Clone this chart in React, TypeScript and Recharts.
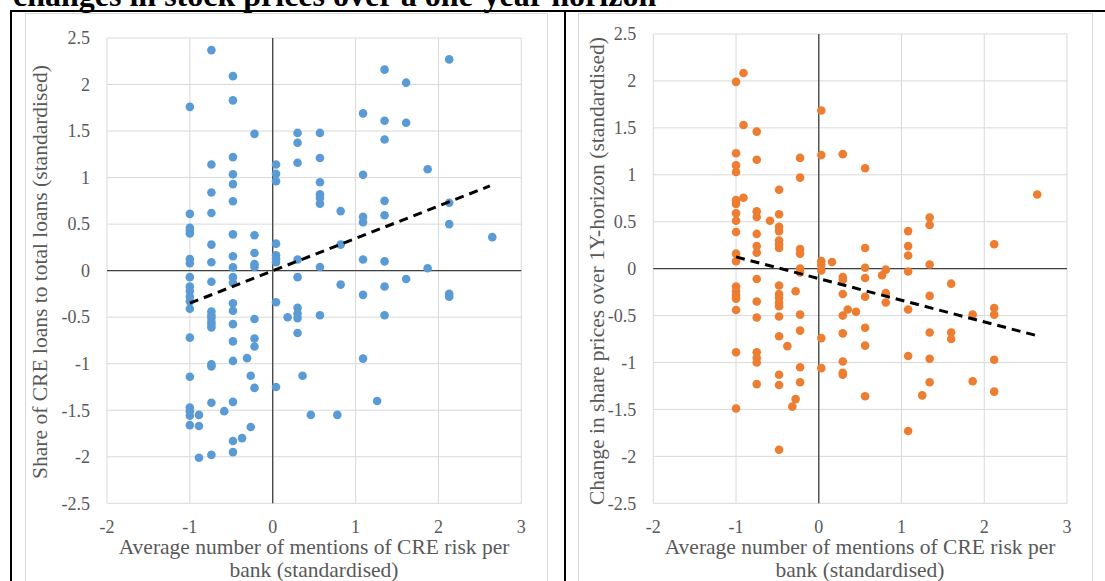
import { ScatterChart, Scatter, XAxis, YAxis, CartesianGrid, ReferenceLine } from "recharts";

// left panel: CRE mentions vs share of CRE loans
const blueX = [
  -1, -1, -1, -1, -1, -1, -1, -1, -1, -1, -1, -1, -1, -1, -1, -1, -1, -1, -1,
  -0.89, -0.89, -0.89,
  -0.74, -0.74, -0.74, -0.74, -0.74, -0.74, -0.74, -0.74, -0.74, -0.74, -0.74, -0.74, -0.74, -0.74, -0.74, -0.74, -0.74,
  -0.585,
  -0.48, -0.48, -0.48, -0.48, -0.48, -0.48, -0.48, -0.48, -0.48, -0.48, -0.48, -0.48, -0.48, -0.48, -0.48, -0.48, -0.48, -0.48, -0.48,
  -0.37, -0.31, -0.265, -0.265,
  -0.22, -0.22, -0.22, -0.22, -0.22, -0.22, -0.22, -0.22, -0.22,
  0.04, 0.04, 0.04, 0.04, 0.04, 0.04, 0.04, 0.04, 0.04,
  0.18,
  0.3, 0.3, 0.3, 0.3, 0.3, 0.3, 0.3, 0.3, 0.3,
  0.36, 0.46,
  0.57, 0.57, 0.57, 0.57, 0.57, 0.57, 0.57, 0.57,
  0.78, 0.82, 0.82, 0.82,
  1.09, 1.09, 1.09, 1.09, 1.09, 1.09, 1.09,
  1.26,
  1.35, 1.35, 1.35, 1.35, 1.35, 1.35, 1.35, 1.35,
  1.61, 1.61, 1.61,
  1.87, 1.87,
  2.13, 2.13, 2.13, 2.13, 2.13,
  2.65,
];
const blueY = [
  1.76, 0.61, 0.46, 0.43, 0.4, 0.125, 0.08, -0.07, -0.17, -0.22, -0.28, -0.33, -0.41, -0.72, -1.14, -1.47, -1.51, -1.56, -1.66,
  -1.55, -1.67, -2.01,
  2.37, 1.14, 0.84, 0.62, 0.28, 0.09, -0.12, -0.44, -0.48, -0.51, -0.55, -0.58, -0.61, -1.005, -1.03, -1.42, -1.98,
  -1.51,
  2.09, 1.83, 1.22, 1.035, 0.93, 0.745, 0.39, 0.155, 0.035, -0.07, -0.13, -0.35, -0.43, -0.575, -0.76, -0.97, -1.41, -1.83, -1.95,
  -1.8, -0.94, -1.13, -1.68,
  1.47, 0.38, 0.19, 0.07, 0.04, -0.52, -0.73, -0.815, -1.26,
  1.14, 1.04, 0.96, 0.29, 0.165, 0.13, 0.09, -0.34, -1.25,
  -0.5,
  1.48, 1.375, 1.16, 0.12, -0.07, -0.4, -0.46, -0.51, -0.67,
  -1.13, -1.55,
  1.48, 1.21, 0.95, 0.82, 0.78, 0.72, 0.04, -0.48,
  -1.55, 0.64, 0.28, -0.15,
  1.69, 1.03, 0.58, 0.52, 0.12, -0.26, -0.945,
  -1.4,
  2.16, 1.61, 1.41, 0.75, 0.595, 0.1, -0.17, -0.48,
  2.02, 1.59, -0.09,
  1.09, 0.025,
  2.27, 0.73, 0.5, -0.25, -0.28,
  0.36,
];

// right panel: CRE mentions vs 1Y share price change
const orangeX = [
  -1, -1, -1, -1, -1, -1, -1, -1, -1, -1, -1, -1, -1, -1, -1, -1, -1, -1,
  -0.91, -0.91, -0.91,
  -0.75, -0.75, -0.75, -0.75, -0.75, -0.75, -0.75, -0.75, -0.75, -0.75, -0.75, -0.75, -0.75, -0.75,
  -0.59,
  -0.48, -0.48, -0.48, -0.48, -0.48, -0.48, -0.48, -0.48, -0.48, -0.48, -0.48, -0.48, -0.48, -0.48, -0.48, -0.48, -0.48,
  -0.38, -0.28, -0.28, -0.32,
  -0.226, -0.226, -0.226, -0.226, -0.226, -0.226, -0.226, -0.226, -0.226, -0.226,
  0.03, 0.03, 0.03, 0.03, 0.03, 0.03, 0.03,
  0.16,
  0.29, 0.29, 0.29, 0.29, 0.29, 0.29, 0.29, 0.29, 0.29,
  0.35, 0.45,
  0.56, 0.56, 0.56, 0.56, 0.56, 0.56, 0.56, 0.56,
  0.765, 0.81, 0.81, 0.81,
  1.08, 1.08, 1.08, 1.08, 1.08, 1.08, 1.08,
  1.25,
  1.34, 1.34, 1.34, 1.34, 1.34, 1.34, 1.34,
  1.6, 1.6, 1.6,
  1.86, 1.86,
  2.12, 2.12, 2.12, 2.12, 2.12,
  2.64,
];
const orangeY = [
  1.99, 1.23, 1.1, 1.03, 0.73, 0.69, 0.59, 0.51, 0.39, 0.16, 0.08, -0.19, -0.24, -0.28, -0.32, -0.44, -0.89, -1.49,
  2.085, 1.53, 0.755,
  1.46, 1.16, 0.61, 0.55, 0.37, 0.24, 0.17, -0.11, -0.35, -0.52, -0.89, -0.95, -1.0, -1.23,
  0.51,
  0.84, 0.58, 0.445, 0.4, 0.3, 0.26, 0.22, -0.18, -0.27, -0.31, -0.36, -0.4, -0.51, -0.72, -1.13, -1.24, -1.93,
  -0.825, -0.24, -1.39, -1.47,
  1.18, 0.97, 0.21, 0.16, 0.0, -0.04, -0.49, -0.66, -1.05, -1.21,
  1.685, 1.21, 0.08, 0.04, -0.02, -0.74, -1.06,
  0.07,
  1.22, -0.09, -0.12, -0.27, -0.5, -0.69, -0.99, -1.11, -1.13,
  -0.435, -0.46,
  1.07, 0.22, 0.01, -0.1, -0.3, -0.63, -0.82, -1.36,
  -0.07, -0.01, -0.26, -0.36,
  0.4, 0.24, 0.14, -0.03, -0.435, -0.93, -1.73,
  -1.35,
  0.545, 0.465, 0.045, -0.29, -0.68, -0.96, -1.21,
  -0.16, -0.68, -0.75,
  -0.49, -1.2,
  0.26, -0.42, -0.49, -0.97, -1.31,
  0.79,
];

// linear trend endpoints as drawn
const blueTrendX = [-1, 2.62];
const blueTrendY = [-0.35, 0.91];
const orangeTrendX = [-1, 2.64];
const orangeTrendY = [0.125, -0.715];

const xTicks = [-2, -1, 0, 1, 2, 3];
const yTicks = [-2.5, -2, -1.5, -1, -0.5, 0, 0.5, 1, 1.5, 2, 2.5];

const leftYTitle = "Share of CRE loans to total loans (standardised)";
const rightYTitle = "Change in share prices over 1Y-horizon (standardised)";
const xTitle1 = "Average number of mentions of CRE risk per";
const xTitle2 = "bank (standardised)";
const heading = "changes in stock prices over a one-year horizon";

const zip = (xs: number[], ys: number[]) => xs.map((x, i) => ({ x, y: ys[i] }));

const SERIF = '"Liberation Serif", "Times New Roman", serif';
const GREY = "#595959";

const XTick = (p: any) => (
  <text x={p.x} y={p.y} dy="0.71em" textAnchor="middle" fontFamily="Liberation Serif" fontSize={18} fill={GREY}>
    {p.payload.value}
  </text>
);
const YTick = (p: any) => (
  <text x={p.x} y={p.y} dy="0.35em" textAnchor="end" fontFamily="Liberation Serif" fontSize={18} fill={GREY}>
    {p.payload.value}
  </text>
);

interface PanelProps {
  pts: { x: number; y: number }[];
  trend: { x: number; y: number }[];
  color: string;
  width: number;
  yAxisWidth: number;
  margin: { top: number; right: number; bottom: number; left: number };
}

function Panel({ pts, trend, color, width, yAxisWidth, margin }: PanelProps) {
  return (
    <ScatterChart width={width} height={568} margin={margin}>
      <CartesianGrid stroke="#D9D9D9" strokeWidth={1} />
      <XAxis type="number" dataKey="x" domain={[-2, 3]} ticks={xTicks} axisLine={false} tickLine={false}
        tickSize={0} tickMargin={17} height={30} tick={XTick} interval={0} />
      <YAxis type="number" dataKey="y" domain={[-2.5, 2.5]} ticks={yTicks} axisLine={false} tickLine={false}
        tickSize={0} tickMargin={17} width={yAxisWidth} tick={YTick} interval={0} />
      <ReferenceLine x={0} stroke="#404040" strokeWidth={1.3} />
      <ReferenceLine y={0} stroke="#404040" strokeWidth={1.3} />
      <Scatter data={pts} isAnimationActive={false}
        shape={(p: any) => <circle cx={p.cx} cy={p.cy} r={4.3} fill={color} />} />
      <Scatter data={trend} isAnimationActive={false} line={{ stroke: "#000", strokeWidth: 3, strokeDasharray: "9 6" }}
        shape={() => <g />} />
    </ScatterChart>
  );
}

const rotated = (cx: number, cy: number): React.CSSProperties => ({
  position: "absolute", left: cx, top: cy, transform: "translate(-50%, -50%) rotate(-90deg)",
  whiteSpace: "nowrap", fontFamily: SERIF, fontSize: 21.5, color: GREY,
});

const xTitleStyle = (left: number, width: number): React.CSSProperties => ({
  position: "absolute", left, top: 536, width, textAlign: "center",
  fontFamily: SERIF, fontSize: 21.5, lineHeight: "23px", color: GREY,
});

export default function App() {
  return (
    <div style={{ position: "absolute", left: 0, top: 0, width: 1105, height: 581, overflow: "hidden", background: "#fff", fontFamily: SERIF }}>
      <div style={{ position: "absolute", left: 13, top: -21, fontFamily: SERIF, fontWeight: "bold", fontSize: 32, lineHeight: "32px", whiteSpace: "nowrap", color: "#000" }}>
        {heading}
      </div>
      {/* table borders */}
      <div style={{ position: "absolute", left: 10, top: 10, width: 1100, height: 2, background: "#000" }} />
      <div style={{ position: "absolute", left: 10, top: 10, width: 2, height: 580, background: "#000" }} />
      <div style={{ position: "absolute", left: 564, top: 10, width: 2, height: 580, background: "#000" }} />
      {/* chart frames */}
      <div style={{ position: "absolute", left: 25, top: 13, width: 521, height: 600, border: "1px solid #D9D9D9" }} />
      <div style={{ position: "absolute", left: 578, top: 13, width: 513, height: 600, border: "1px solid #D9D9D9" }} />

      <div style={{ position: "absolute", left: 25, top: 13 }}>
        <Panel pts={zip(blueX, blueY)} trend={zip(blueTrendX, blueTrendY)} color="#5B9BD5" width={522} yAxisWidth={82}
          margin={{ top: 25, right: 25.7, bottom: 47.7, left: 0 }} />
      </div>
      <div style={{ position: "absolute", left: 578, top: 13 }}>
        <Panel pts={zip(orangeX, orangeY)} trend={zip(orangeTrendX, orangeTrendY)} color="#ED7D31" width={514} yAxisWidth={75.3}
          margin={{ top: 21, right: 25, bottom: 47.7, left: 0 }} />
      </div>

      <div style={rotated(40, 272)}>{leftYTitle}</div>
      <div style={rotated(597, 271)}>{rightYTitle}</div>
      <div style={xTitleStyle(107, 414)}>{xTitle1}<br />{xTitle2}</div>
      <div style={xTitleStyle(653, 414)}>{xTitle1}<br />{xTitle2}</div>
    </div>
  );
}
